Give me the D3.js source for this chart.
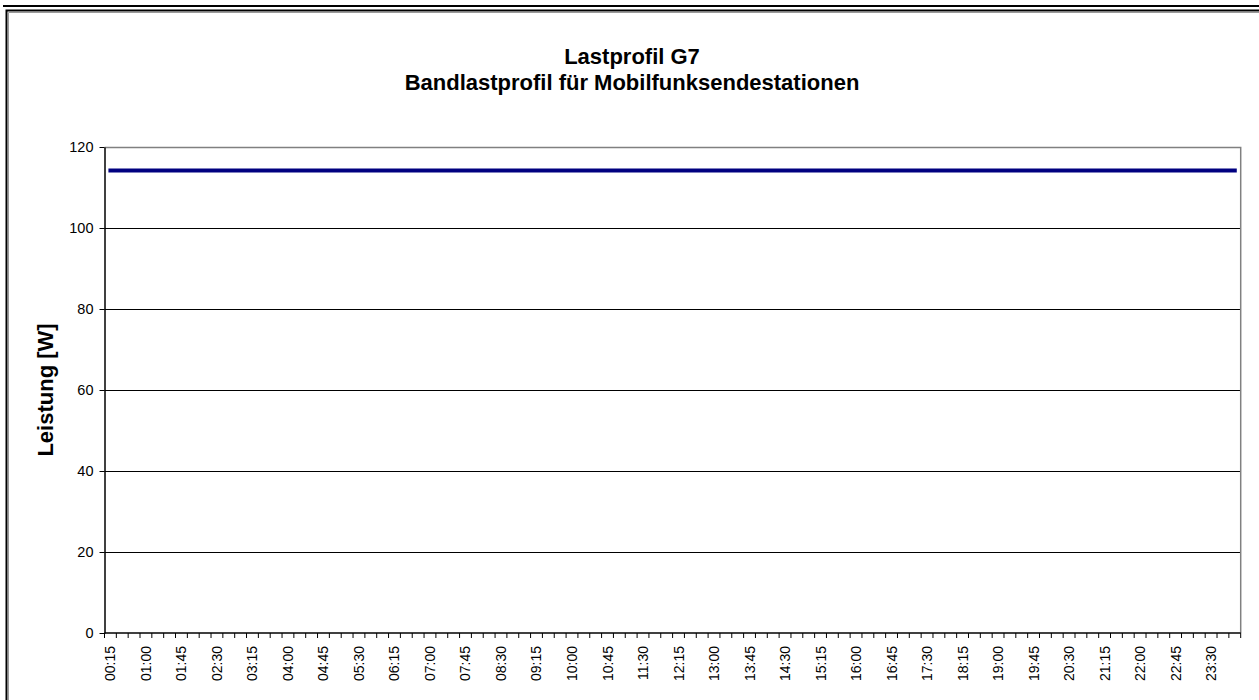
<!DOCTYPE html>
<html>

<head>
    <meta charset="utf-8" />
    <title>Lastprofil G7</title>
    <script src="https://d3js.org/d3.v7.min.js"></script>
    <style>
        body { margin: 0; background: #fff; }
        svg { display: block; font-family: "Liberation Sans", Arial, sans-serif; }
    </style>
</head>

<body>
<svg width="1259" height="700"></svg>

<script>
    // Categories (quarter hours)
    var times = [
        "00:15", "00:30", "00:45", "01:00", "01:15", "01:30", "01:45", "02:00",
        "02:15", "02:30", "02:45", "03:00", "03:15", "03:30", "03:45", "04:00",
        "04:15", "04:30", "04:45", "05:00", "05:15", "05:30", "05:45", "06:00",
        "06:15", "06:30", "06:45", "07:00", "07:15", "07:30", "07:45", "08:00",
        "08:15", "08:30", "08:45", "09:00", "09:15", "09:30", "09:45", "10:00",
        "10:15", "10:30", "10:45", "11:00", "11:15", "11:30", "11:45", "12:00",
        "12:15", "12:30", "12:45", "13:00", "13:15", "13:30", "13:45", "14:00",
        "14:15", "14:30", "14:45", "15:00", "15:15", "15:30", "15:45", "16:00",
        "16:15", "16:30", "16:45", "17:00", "17:15", "17:30", "17:45", "18:00",
        "18:15", "18:30", "18:45", "19:00", "19:15", "19:30", "19:45", "20:00",
        "20:15", "20:30", "20:45", "21:00", "21:15", "21:30", "21:45", "22:00",
        "22:15", "22:30", "22:45", "23:00", "23:15", "23:30", "23:45", "24:00"
    ];

    // Leistung [W]
    var leistung = [
        114.2, 114.2, 114.2, 114.2, 114.2, 114.2, 114.2, 114.2,
        114.2, 114.2, 114.2, 114.2, 114.2, 114.2, 114.2, 114.2,
        114.2, 114.2, 114.2, 114.2, 114.2, 114.2, 114.2, 114.2,
        114.2, 114.2, 114.2, 114.2, 114.2, 114.2, 114.2, 114.2,
        114.2, 114.2, 114.2, 114.2, 114.2, 114.2, 114.2, 114.2,
        114.2, 114.2, 114.2, 114.2, 114.2, 114.2, 114.2, 114.2,
        114.2, 114.2, 114.2, 114.2, 114.2, 114.2, 114.2, 114.2,
        114.2, 114.2, 114.2, 114.2, 114.2, 114.2, 114.2, 114.2,
        114.2, 114.2, 114.2, 114.2, 114.2, 114.2, 114.2, 114.2,
        114.2, 114.2, 114.2, 114.2, 114.2, 114.2, 114.2, 114.2,
        114.2, 114.2, 114.2, 114.2, 114.2, 114.2, 114.2, 114.2,
        114.2, 114.2, 114.2, 114.2, 114.2, 114.2, 114.2, 114.2
    ];

    // Tick labels
    var yTicks = [0, 20, 40, 60, 80, 100, 120];
    var xLabels = [
        "00:15", "01:00", "01:45", "02:30", "03:15", "04:00", "04:45", "05:30",
        "06:15", "07:00", "07:45", "08:30", "09:15", "10:00", "10:45", "11:30",
        "12:15", "13:00", "13:45", "14:30", "15:15", "16:00", "16:45", "17:30",
        "18:15", "19:00", "19:45", "20:30", "21:15", "22:00", "22:45", "23:30"
    ];

    var data = times.map(function (t, i) {
        return { time: t, value: leistung[i] };
    });

    var svg = d3.select("svg");

    // outer frame
    svg.append("line")
        .attr("x1", 3).attr("x2", 1259).attr("y1", 6).attr("y2", 6)
        .attr("stroke", "#000").attr("stroke-width", 2);
    svg.append("path")
        .attr("d", "M6.5,700 V10.5 H1259")
        .attr("fill", "none").attr("stroke", "#000").attr("stroke-width", 2);
    svg.append("path")
        .attr("d", "M8.5,700 V12.5 H1259")
        .attr("fill", "none").attr("stroke", "#999").attr("stroke-width", 1);

    // plot area
    var margin = { top: 147, left: 104.5, right: 18.3, bottom: 67 },
        width = 1259 - margin.left - margin.right,
        height = 700 - margin.top - margin.bottom;

    var g = svg.append("g").attr("transform", "translate(" + margin.left + "," + margin.top + ")");

    var x = d3.scaleBand().domain(times).range([0, width]);
    var y = d3.scaleLinear().domain([0, 120]).range([height, 0]);

    // gridlines
    g.selectAll(".grid")
        .data(yTicks.filter(function (d) { return d > 0 && d < 120; }))
        .enter()
        .append("line")
        .attr("x1", 0).attr("x2", width)
        .attr("y1", function (d) { return Math.round(y(d)) + 0.5; })
        .attr("y2", function (d) { return Math.round(y(d)) + 0.5; })
        .attr("stroke", "#000").attr("stroke-width", 1);

    // plot area border (top & right gray)
    g.append("path")
        .attr("d", "M0,0.5 H" + width + " V" + height)
        .attr("fill", "none").attr("stroke", "#808080").attr("stroke-width", 1.5);

    // y axis
    var yAxis = g.append("g")
        .call(d3.axisLeft(y).tickValues(yTicks).tickSize(5).tickPadding(6).tickSizeOuter(0));
    yAxis.select(".domain").attr("stroke", "#000").attr("stroke-width", 1.5);
    yAxis.selectAll("text").style("font-size", "14.5px").attr("fill", "#000");

    // x axis: ticks between categories
    var xAxis = g.append("g").attr("transform", "translate(0," + height + ")");
    xAxis.append("line")
        .attr("x1", 0).attr("x2", width).attr("y1", 0).attr("y2", 0)
        .attr("stroke", "#000").attr("stroke-width", 1.5);
    xAxis.selectAll(".xtick")
        .data(times.concat(["end"]))
        .enter()
        .append("line")
        .attr("x1", function (d, i) { return i < times.length ? x(d) : width; })
        .attr("x2", function (d, i) { return i < times.length ? x(d) : width; })
        .attr("y1", 0).attr("y2", 5)
        .attr("stroke", "#000").attr("stroke-width", 1);
    xAxis.selectAll(".xlabel")
        .data(xLabels)
        .enter()
        .append("text")
        .attr("transform", function (d) {
            return "translate(" + (x(d) + x.bandwidth() / 2 + 5) + ",13) rotate(-90)";
        })
        .attr("text-anchor", "end")
        .style("font-size", "14px")
        .text(function (d) { return d; });

    // series line
    var line = d3.line()
        .x(function (d) { return x(d.time) + x.bandwidth() / 2; })
        .y(function (d) { return y(d.value); });

    g.append("path")
        .datum(data)
        .attr("d", line)
        .attr("fill", "none")
        .attr("stroke", "#000080")
        .attr("stroke-width", 4)
        .attr("stroke-linecap", "square");

    // titles
    svg.append("text")
        .attr("x", 632).attr("y", 64)
        .attr("text-anchor", "middle")
        .style("font-size", "22px").style("font-weight", "bold")
        .text("Lastprofil G7");
    svg.append("text")
        .attr("x", 632).attr("y", 90)
        .attr("text-anchor", "middle")
        .style("font-size", "22px").style("font-weight", "bold")
        .text("Bandlastprofil für Mobilfunksendestationen");

    svg.append("text")
        .attr("transform", "translate(53," + (margin.top + height / 2) + ") rotate(-90)")
        .attr("text-anchor", "middle")
        .style("font-size", "22px").style("font-weight", "bold")
        .text("Leistung [W]");
</script>
</body>

</html>
